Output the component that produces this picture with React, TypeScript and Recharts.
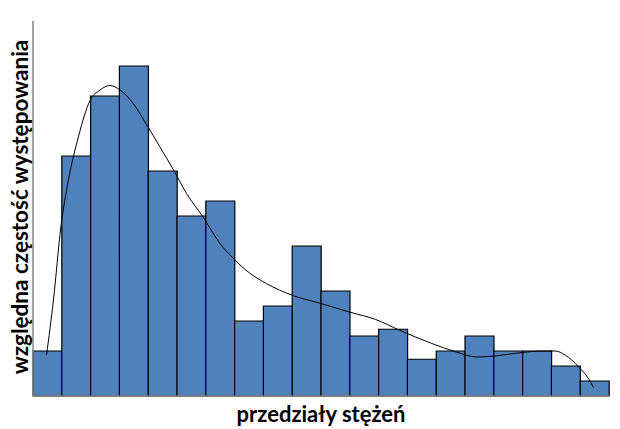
import React from 'react';
import { ComposedChart, Bar, Line, XAxis, YAxis } from 'recharts';

// histogram bins (relative frequency)
const bins = ['1', '2', '3', '4', '5', '6', '7', '8', '9', '10', '11', '12', '13', '14', '15', '16', '17', '18', '19', '20'];
const freq = [3, 16, 20, 22, 15, 12, 13, 5, 6, 10, 7, 4, 4.45, 2.45, 3, 4, 3, 3, 2, 1];

// fitted density curve, x in bin units (0..20)
const curveX = [0.47, 0.71, 0.97, 1.23, 1.58, 1.98, 2.33, 2.67, 3.02, 3.48, 3.94, 4.41, 4.87, 5.33, 5.9, 6.48, 6.94, 7.52, 8.1, 9.02, 9.94, 10.98, 11.9, 12.71, 13.85, 14.67, 15.42, 16.06, 16.98, 17.67, 18.13, 18.48, 18.94, 19.28, 19.46];
const curveY = [2.73, 6.4, 11.3, 14.4, 17.3, 19.7, 20.4, 20.7, 20.4, 19.5, 18.1, 16.6, 15.1, 13.5, 11.95, 10.2, 9.2, 8.2, 7.5, 6.7, 6.2, 5.6, 5.1, 4.4, 3.5, 2.95, 2.6, 2.67, 2.9, 3.0, 3.0, 2.73, 1.95, 1.18, 0.58];

const barData = bins.map((b, i) => ({ bin: b, freq: freq[i] }));
const curveData = curveX.map((x, i) => ({ x, y: curveY[i] }));

const labelFont = 'Lato, "DejaVu Sans", sans-serif';
const axisStyle = { stroke: '#868686', strokeWidth: 1.5 };

export default function App() {
  return (
    <div style={{ position: 'absolute', left: 0, top: 0, width: 620, height: 429, background: '#fff' }}>
      <ComposedChart width={620} height={429} data={barData} barCategoryGap={0}
        margin={{ top: 21, right: 11, bottom: 31, left: 31 }}>
        <XAxis xAxisId="cat" dataKey="bin" tick={false} tickLine={false} height={2} axisLine={axisStyle} />
        <XAxis xAxisId="num" type="number" dataKey="x" domain={[0, 20]} hide />
        <YAxis type="number" domain={[0, 25]} width={2} tick={false} tickLine={false} axisLine={axisStyle} />
        <Bar xAxisId="cat" dataKey="freq" fill="#4F81BD" stroke="#000" strokeWidth={1.2}
          isAnimationActive={false} />
        <Line xAxisId="num" data={curveData} dataKey="y" type="monotone" stroke="#000" strokeWidth={1}
          dot={false} isAnimationActive={false} />
      </ComposedChart>
      <div style={{ position: 'absolute', left: 19, top: 207, transform: 'translate(-50%, -50%) rotate(-90deg)',
        whiteSpace: 'nowrap', fontFamily: labelFont, fontWeight: 700, fontSize: 22.5, color: '#000' }}>
        względna częstość występowania
      </div>
      <div style={{ position: 'absolute', left: 321, top: 413, transform: 'translate(-50%, -50%)',
        whiteSpace: 'nowrap', fontFamily: labelFont, fontWeight: 700, fontSize: 22, color: '#000' }}>
        przedziały stężeń
      </div>
    </div>
  );
}
